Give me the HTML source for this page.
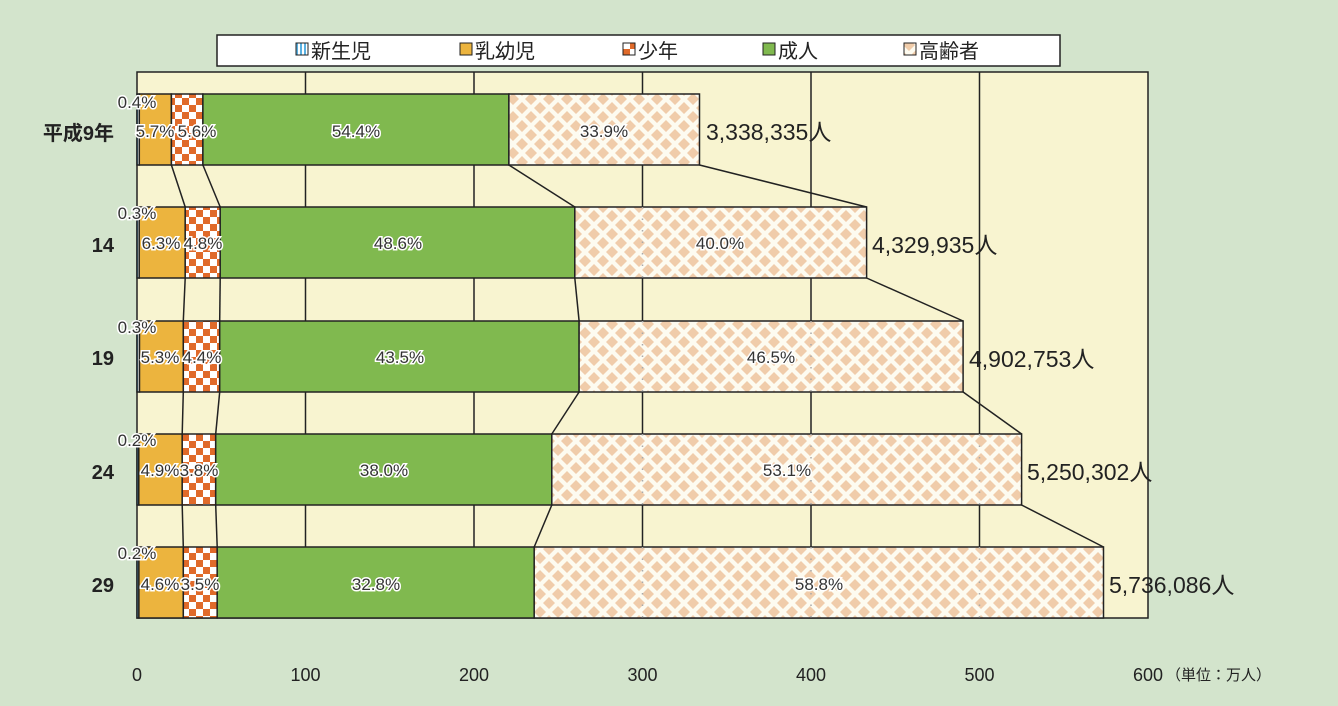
<!DOCTYPE html>
<html><head><meta charset="utf-8"><style>
body{margin:0;background:#d3e4cc;}
svg{display:block;font-family:"Liberation Sans","Noto Sans CJK JP",sans-serif;}
.l{font-size:17px;fill:#333;stroke:#fff;stroke-width:3px;paint-order:stroke;text-anchor:middle;}
.t{font-size:23px;fill:#222;}
.ax{font-size:18px;fill:#222;text-anchor:middle;}
</style></head><body>
<svg width="1338" height="706" viewBox="0 0 1338 706">
<defs>
<pattern id="chk" width="14" height="14" patternUnits="userSpaceOnUse"><rect width="14" height="14" fill="#fff"/><rect width="7" height="7" fill="#e06a2a"/><rect x="7" y="7" width="7" height="7" fill="#e06a2a"/></pattern>
<pattern id="dia" width="18" height="18" patternUnits="userSpaceOnUse"><rect width="18" height="18" fill="#fdfbf0"/><path d="M9 3L15 9L9 15L3 9Z M0 -6L6 0L0 6L-6 0Z M18 -6L24 0L18 6L12 0Z M0 12L6 18L0 24L-6 18Z M18 12L24 18L18 24L12 18Z" fill="#f0ccaa"/></pattern>
<pattern id="nb" width="4" height="4" patternUnits="userSpaceOnUse"><rect width="4" height="4" fill="#fff"/><rect width="2" height="4" fill="#5ab0e0"/></pattern>
</defs>
<rect x="137" y="72" width="1011" height="546" fill="#f8f4d0" stroke="#222" stroke-width="1.5"/>
<g stroke="#222" stroke-width="1.5">
<line x1="305.5" y1="72" x2="305.5" y2="618"/><line x1="474" y1="72" x2="474" y2="618"/><line x1="642.5" y1="72" x2="642.5" y2="618"/><line x1="811" y1="72" x2="811" y2="618"/><line x1="979.5" y1="72" x2="979.5" y2="618"/>
</g>
<g stroke="#222" stroke-width="1.5" fill="none">
<polyline points="171.4,165 185.2,207"/><polyline points="202.9,165 220.2,207"/><polyline points="508.9,165 574.8,207"/><polyline points="699.5,165 866.6,207"/>
<polyline points="185.2,278 183.3,321"/><polyline points="220.2,278 219.7,321"/><polyline points="574.8,278 579.1,321"/><polyline points="866.6,278 963.1,321"/>
<polyline points="183.3,392 182.2,434"/><polyline points="219.7,392 215.7,434"/><polyline points="579.1,392 551.8,434"/><polyline points="963.1,392 1021.6,434"/>
<polyline points="182.2,505 183.3,547"/><polyline points="215.7,505 217.2,547"/><polyline points="551.8,505 534.2,547"/><polyline points="1021.6,505 1103.5,547"/>
</g>
<g stroke="#222" stroke-width="1.5">
<rect x="137" y="94" width="2.3" height="71" fill="url(#nb)"/><rect x="139.3" y="94" width="32.1" height="71" fill="#ecb43e"/><rect x="171.4" y="94" width="31.5" height="71" fill="url(#chk)"/><rect x="202.9" y="94" width="306" height="71" fill="#80b94f"/><rect x="508.9" y="94" width="190.6" height="71" fill="url(#dia)"/>
<rect x="137" y="207" width="2.2" height="71" fill="url(#nb)"/><rect x="139.2" y="207" width="46" height="71" fill="#ecb43e"/><rect x="185.2" y="207" width="35" height="71" fill="url(#chk)"/><rect x="220.2" y="207" width="354.6" height="71" fill="#80b94f"/><rect x="574.8" y="207" width="291.8" height="71" fill="url(#dia)"/>
<rect x="137" y="321" width="2.5" height="71" fill="url(#nb)"/><rect x="139.5" y="321" width="43.8" height="71" fill="#ecb43e"/><rect x="183.3" y="321" width="36.4" height="71" fill="url(#chk)"/><rect x="219.7" y="321" width="359.4" height="71" fill="#80b94f"/><rect x="579.1" y="321" width="384" height="71" fill="url(#dia)"/>
<rect x="137" y="434" width="1.8" height="71" fill="url(#nb)"/><rect x="138.8" y="434" width="43.4" height="71" fill="#ecb43e"/><rect x="182.2" y="434" width="33.5" height="71" fill="url(#chk)"/><rect x="215.7" y="434" width="336.1" height="71" fill="#80b94f"/><rect x="551.8" y="434" width="469.8" height="71" fill="url(#dia)"/>
<rect x="137" y="547" width="1.9" height="71" fill="url(#nb)"/><rect x="138.9" y="547" width="44.4" height="71" fill="#ecb43e"/><rect x="183.3" y="547" width="33.9" height="71" fill="url(#chk)"/><rect x="217.2" y="547" width="317" height="71" fill="#80b94f"/><rect x="534.2" y="547" width="569.3" height="71" fill="url(#dia)"/>
</g>
<g stroke="#aaa" stroke-width="1.5" stroke-dasharray="1.5,10">
<line x1="642.5" y1="207" x2="642.5" y2="278"/><line x1="642.5" y1="321" x2="642.5" y2="392"/><line x1="811" y1="321" x2="811" y2="392"/><line x1="642.5" y1="434" x2="642.5" y2="505"/><line x1="811" y1="434" x2="811" y2="505"/><line x1="979.5" y1="434" x2="979.5" y2="505"/><line x1="642.5" y1="547" x2="642.5" y2="618"/><line x1="811" y1="547" x2="811" y2="618"/><line x1="979.5" y1="547" x2="979.5" y2="618"/>
</g>
<g class="l">
<text x="137" y="108">0.4%</text><text x="155" y="137">5.7%</text><text x="197" y="137">5.6%</text><text x="356" y="137">54.4%</text><text x="604" y="137">33.9%</text>
<text x="137" y="219">0.3%</text><text x="161" y="249">6.3%</text><text x="203" y="249">4.8%</text><text x="398" y="249">48.6%</text><text x="720" y="249">40.0%</text>
<text x="137" y="333">0.3%</text><text x="160" y="363">5.3%</text><text x="202" y="363">4.4%</text><text x="400" y="363">43.5%</text><text x="771" y="363">46.5%</text>
<text x="137" y="446">0.2%</text><text x="160" y="476">4.9%</text><text x="199" y="476">3.8%</text><text x="384" y="476">38.0%</text><text x="787" y="476">53.1%</text>
<text x="137" y="559">0.2%</text><text x="160" y="590">4.6%</text><text x="200" y="590">3.5%</text><text x="376" y="590">32.8%</text><text x="819" y="590">58.8%</text>
</g>
<g class="t">
<text x="706" y="140">3,338,335人</text><text x="872" y="253">4,329,935人</text><text x="969" y="367">4,902,753人</text><text x="1027" y="480">5,250,302人</text><text x="1109" y="593">5,736,086人</text>
</g>
<g font-size="20" font-weight="bold" fill="#222" text-anchor="end">
<text x="114" y="140">平成9年</text><text x="114" y="252">14</text><text x="114" y="365">19</text><text x="114" y="479">24</text><text x="114" y="592">29</text>
</g>
<g class="ax">
<text x="137" y="681">0</text><text x="305.5" y="681">100</text><text x="474" y="681">200</text><text x="642.5" y="681">300</text><text x="811" y="681">400</text><text x="979.5" y="681">500</text><text x="1148" y="681">600</text>
</g>
<text x="1166" y="680" font-size="15" fill="#222">（単位：万人）</text>
<rect x="217" y="35" width="843" height="31" fill="#fff" stroke="#222" stroke-width="1.5"/>
<g stroke="#222" stroke-width="1">
<rect x="296" y="43" width="12" height="12" fill="url(#nb)"/><rect x="460" y="43" width="12" height="12" fill="#ecb43e"/><rect x="623" y="43" width="12" height="12" fill="url(#chk)"/><rect x="763" y="43" width="12" height="12" fill="#80b94f"/><rect x="904" y="43" width="12" height="12" fill="url(#dia)"/>
</g>
<g font-size="20" fill="#222">
<text x="311" y="58">新生児</text><text x="475" y="58">乳幼児</text><text x="638" y="58">少年</text><text x="778" y="58">成人</text><text x="919" y="58">高齢者</text>
</g>
</svg>
</body></html>
